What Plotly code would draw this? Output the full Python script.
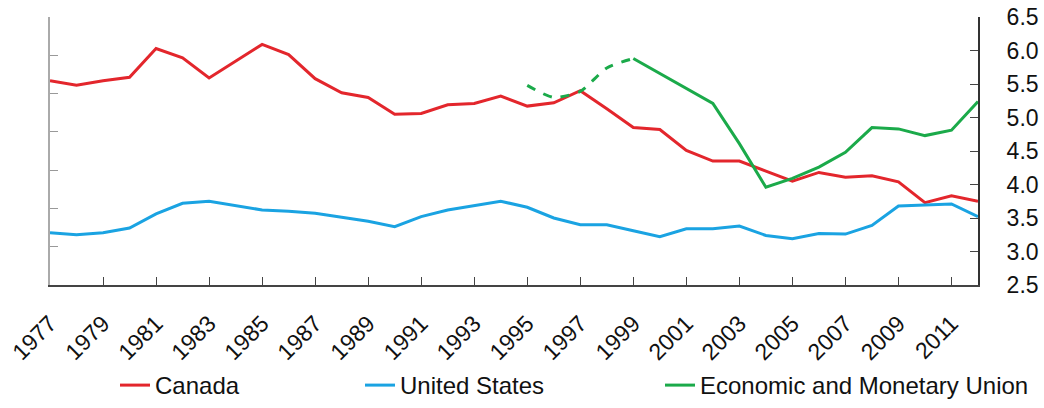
import plotly.graph_objects as go

years = list(range(1977, 2013))
canada = [5.55, 5.48, 5.55, 5.60, 6.03, 5.89, 5.59, 5.84, 6.09, 5.94,
          5.58, 5.37, 5.30, 5.05, 5.06, 5.19, 5.21, 5.32, 5.17, 5.22,
          5.40, 5.13, 4.85, 4.82, 4.51, 4.35, 4.35, 4.20, 4.05, 4.18,
          4.11, 4.13, 4.04, 3.73, 3.83, 3.75]
united_states = [3.28, 3.25, 3.28, 3.35, 3.56, 3.72, 3.75, 3.69, 3.62, 3.60,
                 3.57, 3.51, 3.45, 3.37, 3.52, 3.62, 3.69, 3.75, 3.66, 3.50,
                 3.40, 3.40, 3.31, 3.22, 3.34, 3.34, 3.38, 3.24, 3.19, 3.27,
                 3.26, 3.39, 3.68, 3.70, 3.71, 3.52]
emu_est_years = [1995, 1996, 1997, 1998, 1999]
emu_est = [5.48, 5.30, 5.39, 5.74, 5.88]
emu_years = list(range(1999, 2013))
emu = [5.88, 5.66, 5.44, 5.21, 4.61, 3.96, 4.09, 4.26, 4.48, 4.85,
       4.83, 4.73, 4.81, 5.24]
x_ticks = list(range(1977, 2012, 2))
y_ticks = [2.5, 3.0, 3.5, 4.0, 4.5, 5.0, 5.5, 6.0, 6.5]

RED, BLUE, GREEN = "#E3262C", "#1AA3E2", "#1BAA4A"
FONT = "Liberation Sans, Arial, sans-serif"

fig = go.Figure()
# anchor trace so the unlabeled left (primary) axis is drawn
fig.add_trace(go.Scatter(x=[years[0]], y=[None], mode="lines", showlegend=False,
                         hoverinfo="skip", yaxis="y"))
fig.add_trace(go.Scatter(x=years, y=canada, mode="lines", name="Canada",
                         line=dict(color=RED, width=3), yaxis="y2", legend="legend"))
fig.add_trace(go.Scatter(x=years, y=united_states, mode="lines", name="United States",
                         line=dict(color=BLUE, width=3), yaxis="y2", legend="legend2"))
fig.add_trace(go.Scatter(x=emu_est_years, y=emu_est, mode="lines", showlegend=False,
                         line=dict(color=GREEN, width=3, dash="dash", shape="spline", smoothing=0.7),
                         yaxis="y2"))
fig.add_trace(go.Scatter(x=emu_years, y=emu, mode="lines", name="Economic and Monetary Union",
                         line=dict(color=GREEN, width=3), yaxis="y2", legend="legend3"))

leg = dict(orientation="h", yanchor="middle", xanchor="left", y=-0.375,
           font=dict(family=FONT, size=24, color="#111"), bgcolor="rgba(0,0,0,0)",
           borderwidth=0)

fig.update_layout(
    width=1044, height=408,
    margin=dict(l=50, r=66, t=17, b=123, autoexpand=False),
    plot_bgcolor="white", paper_bgcolor="white",
    font=dict(family=FONT, color="#111"),
    xaxis=dict(range=[1977, 2012], tickvals=x_ticks, ticktext=[str(v) for v in x_ticks],
               tickangle=-45, ticks="inside", ticklen=8, tickcolor="#444", automargin=False,
               showline=True, linecolor="#444", linewidth=2, showgrid=False, zeroline=False,
               ticklabeloverflow="allow",
               tickfont=dict(family=FONT, size=23, color="#111"), ticklabelstandoff=14),
    yaxis=dict(range=[0, 7], dtick=1, ticks="inside", ticklen=8, tickcolor="#999",
               showline=True, linecolor="#aaa", linewidth=2, showgrid=False, automargin=False,
               showticklabels=False, zeroline=False),
    yaxis2=dict(range=[2.5, 6.5], tickvals=y_ticks, ticktext=[f"{v:.1f}" for v in y_ticks],
                overlaying="y", side="right", ticks="inside", ticklen=8, tickcolor="#444",
                showline=True, linecolor="#333", linewidth=2, showgrid=False, zeroline=False,
                automargin=False, ticklabeloverflow="allow",
                tickfont=dict(family=FONT, size=23, color="#111"), ticklabelstandoff=22),
    legend=dict(leg, x=(115 - 50) / 928),
    legend2=dict(leg, x=(360 - 50) / 928),
    legend3=dict(leg, x=(660 - 50) / 928),
)

fig.write_html("out.html", config={"displayModeBar": False},
               post_script="document.body.style.margin='0';")
